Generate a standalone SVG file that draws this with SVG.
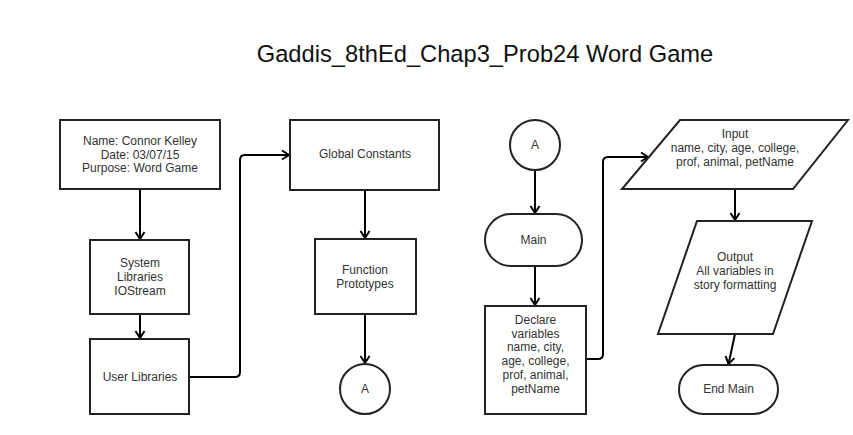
<svg xmlns="http://www.w3.org/2000/svg" width="853" height="435" viewBox="0 0 853 435">
<defs>
<style>
.box{fill:#fff;stroke:#222;stroke-width:2}
.t{font-family:"Liberation Sans",Arial,sans-serif;font-size:12px;fill:#333;text-anchor:middle}
.title{font-family:"Liberation Sans",Arial,sans-serif;font-size:23.7px;fill:#111;text-anchor:middle}
.c{fill:none;stroke:#000;stroke-width:2}
</style>
<marker id="arr" markerUnits="userSpaceOnUse" markerWidth="12" markerHeight="12" viewBox="-10 -6 12 12" refX="0" refY="0" orient="auto">
<path d="M-7,-4.5 L0,0 L-7,4.5" fill="none" stroke="#000" stroke-width="2"/>
</marker>
</defs>
<rect width="853" height="435" fill="#fff"/>
<text class="title" x="485" y="62">Gaddis_8thEd_Chap3_Prob24 Word Game</text>
<g id="connectors">
<path class="c" d="M140,189 V239" marker-end="url(#arr)"/>
<path class="c" d="M140,314 V338" marker-end="url(#arr)"/>
<path class="c" d="M190,377 H235 Q240,377 240,372 V160 Q240,155 245,155 H289" marker-end="url(#arr)"/>
<path class="c" d="M365,190 V238" marker-end="url(#arr)"/>
<path class="c" d="M365,314 V363" marker-end="url(#arr)"/>
<path class="c" d="M535,170 V213" marker-end="url(#arr)"/>
<path class="c" d="M535,266 V305" marker-end="url(#arr)"/>
<path class="c" d="M586,359 H598 Q603,359 603,354 V162 Q603,157 608,157 H648" marker-end="url(#arr)"/>
<path class="c" d="M735,189 V220" marker-end="url(#arr)"/>
<path class="c" d="M735,334 L728.5,364" marker-end="url(#arr)"/>
</g>
<g id="header">
<rect class="box" x="60" y="120" width="160" height="69"/>
<text class="t" x="140" y="145">Name: Connor Kelley</text>
<text class="t" x="140" y="158.5">Date: 03/07/15</text>
<text class="t" x="140" y="172">Purpose: Word Game</text>
</g>
<g id="syslib">
<rect class="box" x="90" y="240" width="99" height="74"/>
<text class="t" x="140" y="267">System</text>
<text class="t" x="140" y="281">Libraries</text>
<text class="t" x="140" y="295">IOStream</text>
</g>
<g id="userlib">
<rect class="box" x="90" y="339" width="99" height="75"/>
<text class="t" x="140" y="381">User Libraries</text>
</g>
<g id="globals">
<rect class="box" x="290" y="120" width="149" height="70"/>
<text class="t" x="365" y="158">Global Constants</text>
</g>
<g id="protos">
<rect class="box" x="315" y="239" width="101" height="75"/>
<text class="t" x="365" y="274">Function</text>
<text class="t" x="365" y="288">Prototypes</text>
</g>
<g id="connA1">
<circle class="box" cx="365" cy="389" r="25"/>
<text class="t" x="365" y="393">A</text>
</g>
<g id="connA2">
<circle class="box" cx="535" cy="145" r="25"/>
<text class="t" x="535" y="149">A</text>
</g>
<g id="main">
<rect class="box" x="485" y="214" width="97" height="52" rx="26" ry="26"/>
<text class="t" x="533.5" y="244">Main</text>
</g>
<g id="declare">
<rect class="box" x="485" y="306" width="101" height="108"/>
<text class="t" x="535.5" y="324">Declare</text>
<text class="t" x="535.5" y="337.7">variables</text>
<text class="t" x="535.5" y="351.4">name, city,</text>
<text class="t" x="535.5" y="365.1">age, college,</text>
<text class="t" x="535.5" y="378.8">prof, animal,</text>
<text class="t" x="535.5" y="392.5">petName</text>
</g>
<g id="input">
<polygon class="box" points="680,120 848,120 793,189 622,189"/>
<text class="t" x="735" y="138">Input</text>
<text class="t" x="735" y="152">name, city, age, college,</text>
<text class="t" x="735" y="166">prof, animal, petName</text>
</g>
<g id="output">
<polygon class="box" points="697,221 812,221 773,334 658,334"/>
<text class="t" x="735" y="261">Output</text>
<text class="t" x="735" y="275">All variables in</text>
<text class="t" x="735" y="289">story formatting</text>
</g>
<g id="endmain">
<rect class="box" x="679" y="365" width="99" height="49" rx="24.5" ry="24.5"/>
<text class="t" x="728.5" y="393">End Main</text>
</g>
</svg>
